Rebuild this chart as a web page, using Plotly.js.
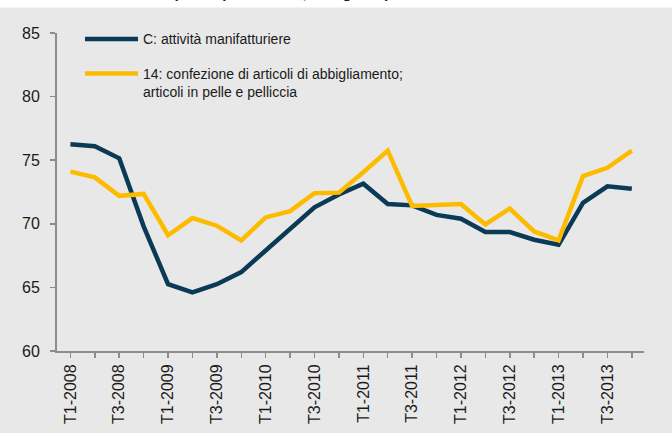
<!DOCTYPE html>
<html>
<head>
<meta charset="utf-8">
<script src="https://cdn.plot.ly/plotly-3.0.1.min.js"></script>
<style>html,body{margin:0;padding:0;background:#e8e8e8;}</style>
</head>
<body>
<div id="chart" style="width:672px;height:433px;"></div>
<script>
const quarters = ["T1-2008","T2-2008","T3-2008","T4-2008","T1-2009","T2-2009","T3-2009","T4-2009",
  "T1-2010","T2-2010","T3-2010","T4-2010","T1-2011","T2-2011","T3-2011","T4-2011",
  "T1-2012","T2-2012","T3-2012","T4-2012","T1-2013","T2-2013","T3-2013","T4-2013"];
const tickLabels = ["T1-2008","","T3-2008","","T1-2009","","T3-2009","",
  "T1-2010","","T3-2010","","T1-2011","","T3-2011","",
  "T1-2012","","T3-2012","","T1-2013","","T3-2013",""];
const manifattura = [76.25,76.1,75.15,69.8,65.25,64.6,65.25,66.2,67.9,69.55,71.3,72.3,73.15,71.55,71.45,70.7,70.4,69.35,69.35,68.75,68.35,71.65,72.95,72.75];
const abbigliamento = [74.1,73.65,72.2,72.35,69.1,70.45,69.85,68.7,70.5,71.0,72.4,72.45,74.05,75.75,71.4,71.5,71.55,69.95,71.2,69.4,68.7,73.75,74.4,75.75];
const names = ["C: attività manifatturiere","14: confezione di articoli di abbigliamento;<br>articoli in pelle e pelliccia"];
const colors = ["#0b3a56","#fdbb00"];

const L = 57, R = 644, T = 33, B = 351;
const px = x => (x - L) / (R - L);
const py = y => (B - y) / (B - T);

const traces = [
  {x: quarters, y: manifattura, type: "scatter", mode: "lines", name: names[0],
   line: {color: colors[0], width: 4.5}},
  {x: quarters, y: abbigliamento, type: "scatter", mode: "lines", name: names[1],
   line: {color: colors[1], width: 4.5}}
];

const font = "Liberation Sans, Arial, Helvetica, sans-serif";
const layout = {
  width: 672, height: 433,
  margin: {l: L, r: 672 - R, t: T, b: 433 - B},
  paper_bgcolor: "#e8e8e8",
  plot_bgcolor: "#e8e8e8",
  showlegend: false,
  font: {family: font, color: "#1a1a1a", size: 16},
  xaxis: {
    type: "category",
    categoryorder: "array", categoryarray: quarters,
    range: [-0.55, 23.5],
    tickmode: "array", tickvals: quarters, ticktext: tickLabels,
    tickangle: -90,
    ticks: "outside", ticklen: 5, tickcolor: "#8c8c8c", tickwidth: 1.5,
    showline: true, linecolor: "#8c8c8c", linewidth: 2,
    showgrid: false, zeroline: false,
    tickfont: {size: 16, family: font, color: "#1a1a1a"}
  },
  yaxis: {
    range: [60, 85],
    tickvals: [60, 65, 70, 75, 80, 85],
    ticks: "outside", ticklen: 5, tickcolor: "#8c8c8c", tickwidth: 1.5,
    showline: true, linecolor: "#8c8c8c", linewidth: 2,
    showgrid: false, zeroline: false,
    ticklabelstandoff: 7,
    tickfont: {size: 16, family: font, color: "#1a1a1a"}
  },
  shapes: [
    {type: "rect", xref: "paper", yref: "paper", x0: px(-5), x1: px(680), y0: py(7.5), y1: py(-20),
     fillcolor: "#ffffff", line: {width: 0}, layer: "below"},
    {type: "line", xref: "paper", yref: "paper", x0: px(85), x1: px(138), y0: py(39), y1: py(39),
     line: {color: colors[0], width: 4.5}},
    {type: "line", xref: "paper", yref: "paper", x0: px(85), x1: px(138), y0: py(73.5), y1: py(73.5),
     line: {color: colors[1], width: 4.5}}
  ],
  annotations: [
    {xref: "paper", yref: "paper", x: px(141), y: py(39), xanchor: "left", yanchor: "middle",
     text: "C: attività manifatturiere", showarrow: false, font: {size: 14, family: font, color: "#1a1a1a"}},
    {xref: "paper", yref: "paper", x: px(141), y: py(73.5), xanchor: "left", yanchor: "middle",
     text: "14: confezione di articoli di abbigliamento;", showarrow: false, font: {size: 14, family: font, color: "#1a1a1a"}},
    {xref: "paper", yref: "paper", x: px(141), y: py(92), xanchor: "left", yanchor: "middle",
     text: "articoli in pelle e pelliccia", showarrow: false, font: {size: 14, family: font, color: "#1a1a1a"}},
    {xref: "paper", yref: "paper", x: px(281), y: py(3), xanchor: "center", yanchor: "bottom",
     text: "<b>(valori percentuali; dati grezzi)</b>", showarrow: false, font: {size: 15, family: font, color: "#1a1a1a"}}
  ]
};

Plotly.newPlot("chart", traces, layout, {displayModeBar: false, staticPlot: true});
</script>
</body>
</html>
